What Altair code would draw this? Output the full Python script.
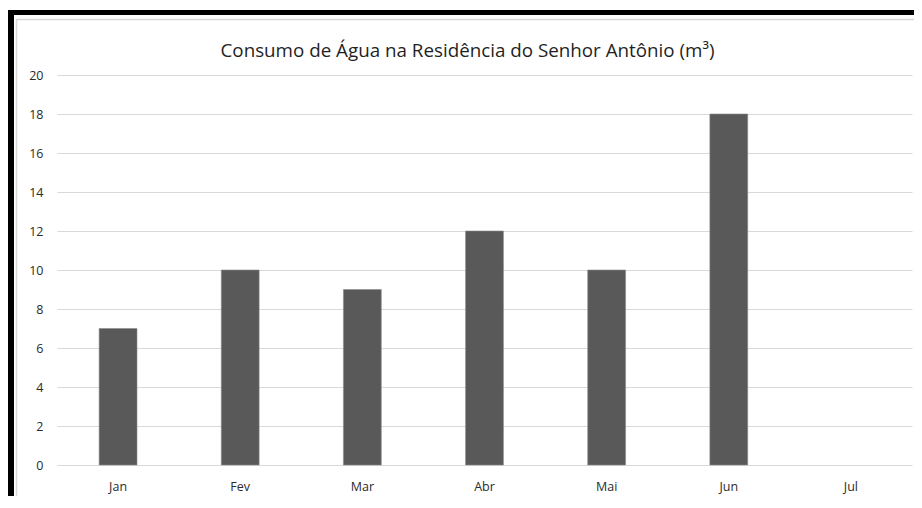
import altair as alt
import pandas as pd

months = ["Jan", "Fev", "Mar", "Abr", "Mai", "Jun", "Jul"]
consumo = [7, 10, 9, 12, 10, 18, None]
y_ticks = [0, 2, 4, 6, 8, 10, 12, 14, 16, 18, 20]
title_text = "Consumo de Água na Residência do Senhor Antônio (m³)"

df = pd.DataFrame({"mes": months, "consumo": consumo})
one = pd.DataFrame({"k": [0]})

W, H = 855, 390
PL, PT = 49, 67
TOTAL_W, TOTAL_H = 906, 488

x_enc = alt.X("mes:N", sort=months,
              scale=alt.Scale(paddingInner=0.69, paddingOuter=0.345),
              axis=alt.Axis(title=None, labelAngle=0, domain=False, ticks=False,
                            labelPadding=15, labelFontSize=12.5,
                            labelColor="#2b2b2b", labelFont="Open Sans"))
y_enc = alt.Y("consumo:Q", scale=alt.Scale(domain=[0, 20], nice=False),
              axis=alt.Axis(title=None, values=y_ticks, domain=False, ticks=False,
                            grid=True, gridColor="#d9d9d9", gridWidth=1,
                            labelPadding=14, labelFontSize=12.5,
                            labelColor="#2b2b2b", labelFont="Open Sans"))

bars = alt.Chart(df).mark_bar(color="#595959", stroke="#8c8c8c", strokeWidth=0.6).encode(
    x=x_enc, y=y_enc)

def rule(x, x2, y, y2, color, width):
    return alt.Chart(one).mark_rule(color=color, strokeWidth=width, clip=False).encode(
        x=alt.value(x), x2=alt.value(x2), y=alt.value(y), y2=alt.value(y2))

# screenshot frame decorations (canvas-relative, shifted to plot coords)
frame = [
    rule(-PL, TOTAL_W - PL, 4.5 - PT, 4.5 - PT, "#000000", 5),          # top black bar
    rule(-PL + 3, -PL + 3, 2 - PT, TOTAL_H - PT, "#000000", 6),         # left black bar
    rule(-PL + 8.5, TOTAL_W - PL, 11.5 - PT, 11.5 - PT, "#d9d9d9", 1.5),# inner frame top
    rule(-PL + 8.5, -PL + 8.5, 11 - PT, TOTAL_H - PT, "#d9d9d9", 1.5),  # inner frame left
]

chart = alt.layer(bars, *frame).properties(
    width=W, height=H,
    autosize="none",
    padding={"left": PL, "top": PT, "right": TOTAL_W - PL - W, "bottom": TOTAL_H - PT - H},
    title=alt.TitleParams(title_text, fontSize=18.8, font="Open Sans", fontWeight="normal",
                          color="#1f1f1f", anchor="middle", frame="group",
                          dx=-17, offset=0, dy=54),
).configure(background="white").configure_view(stroke=None)

chart.save("out.html", embed_options={"renderer": "svg", "actions": False})
